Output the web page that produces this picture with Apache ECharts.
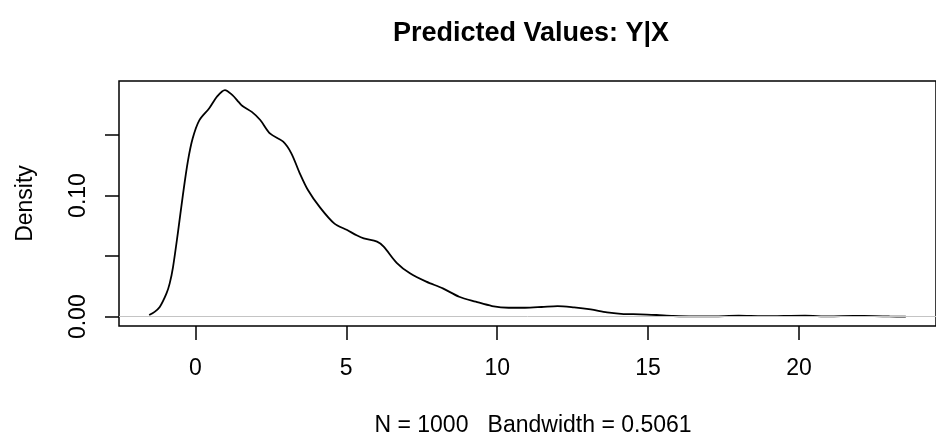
<!DOCTYPE html>
<html>
<head>
<meta charset="utf-8">
<script src="https://cdn.jsdelivr.net/npm/echarts@6/dist/echarts.min.js"></script>
<style>
html,body{margin:0;padding:0;background:#fff;}
#chart{width:936px;height:435px;}
</style>
</head>
<body>
<div id="chart"></div>
<script>
// Density estimate
const xValues = [-1.53, -1.35, -1.18, -0.96, -0.85, -0.74, -0.58, -0.41, -0.25, -0.09, 0.13, 0.46, 0.73, 0.98, 1.22, 1.44, 1.55, 1.87, 2.15, 2.48, 2.91, 3.18, 3.46, 3.73, 4.11, 4.6, 5.03, 5.36, 5.58, 6.02, 6.24, 6.67, 7.11, 7.65, 8.2, 8.74, 9.29, 9.83, 10.38, 10.92, 11.47, 12.0, 12.55, 13.1, 13.64, 14.19, 14.74, 15.28, 15.83, 16.5, 17.2, 18.0, 18.8, 19.5, 20.2, 21.0, 21.8, 22.5, 23.0, 23.54];
const densityValues = [0.0014, 0.004, 0.008, 0.019, 0.0275, 0.041, 0.069, 0.101, 0.128, 0.147, 0.162, 0.172, 0.182, 0.187, 0.183, 0.177, 0.174, 0.169, 0.1623, 0.151, 0.1444, 0.1348, 0.1183, 0.1045, 0.0908, 0.077, 0.0715, 0.067, 0.0647, 0.062, 0.0578, 0.0445, 0.0358, 0.0289, 0.0234, 0.0165, 0.0124, 0.0088, 0.0074, 0.0074, 0.008, 0.0088, 0.0077, 0.006, 0.0036, 0.0022, 0.002, 0.0014, 0.0006, 0.0002, 0.0003, 0.0008, 0.0004, 0.0006, 0.0008, 0.0003, 0.0006, 0.0005, 0.0002, 0.00005];
const xTicks = [0, 5, 10, 15, 20];
const yTicks = [0, 0.05, 0.10, 0.15];
const yTickLabels = [0, 0.10];
const mainTitle = 'Predicted Values: Y|X';
const xLabel = 'N = 1000   Bandwidth = 0.5061';
const yLabel = 'Density';

const FONT = '"Liberation Sans", Arial, Helvetica, sans-serif';
const chart = echarts.init(document.getElementById('chart'), null, {renderer: 'canvas'});
chart.setOption({
  backgroundColor: '#ffffff',
  animation: false,
  title: [
    {text: mainTitle, left: 531, top: 20, textAlign: 'center', padding: 0,
     textStyle: {fontFamily: FONT, fontSize: 27, fontWeight: 'bold', color: '#000'}},
    {text: xLabel, left: 533, top: 414, textAlign: 'center', padding: 0,
     textStyle: {fontFamily: FONT, fontSize: 23, fontWeight: 'normal', color: '#000'}}
  ],
  grid: {left: 119, top: 81, width: 827, height: 245, show: true,
         borderColor: '#000', borderWidth: 1.5, backgroundColor: 'transparent', containLabel: false},
  xAxis: {
    type: 'value', min: -2.53, max: 24.54,
    axisLine: {show: false, onZero: false},
    splitLine: {show: false},
    axisTick: {show: true, customValues: xTicks, length: 14, inside: false,
               lineStyle: {color: '#000', width: 1.5}},
    axisLabel: {show: true, customValues: xTicks, margin: 31,
                fontFamily: FONT, fontSize: 23, color: '#000'}
  },
  yAxis: {
    type: 'value', min: -0.00767, max: 0.1945,
    name: yLabel, nameLocation: 'middle', nameRotate: 90, nameGap: 82,
    nameTextStyle: {fontFamily: FONT, fontSize: 23, color: '#000'},
    axisLine: {show: false, onZero: false},
    splitLine: {show: false},
    axisTick: {show: true, customValues: yTicks, length: 14, inside: false,
               lineStyle: {color: '#000', width: 1.5}},
    axisLabel: {show: true, customValues: yTickLabels, rotate: 90, margin: 29,
                fontFamily: FONT, fontSize: 23, color: '#000',
                formatter: v => Number(v).toFixed(2)}
  },
  series: [{
    type: 'line',
    data: xValues.map((x, i) => [x, densityValues[i]]),
    showSymbol: false,
    smooth: 0.3,
    lineStyle: {color: '#000', width: 1.8},
    silent: true,
    markLine: {
      silent: true, symbol: 'none', label: {show: false},
      lineStyle: {color: '#c4c4c4', width: 1, type: 'solid'},
      data: [{yAxis: 0}]
    }
  }]
});
</script>
</body>
</html>
